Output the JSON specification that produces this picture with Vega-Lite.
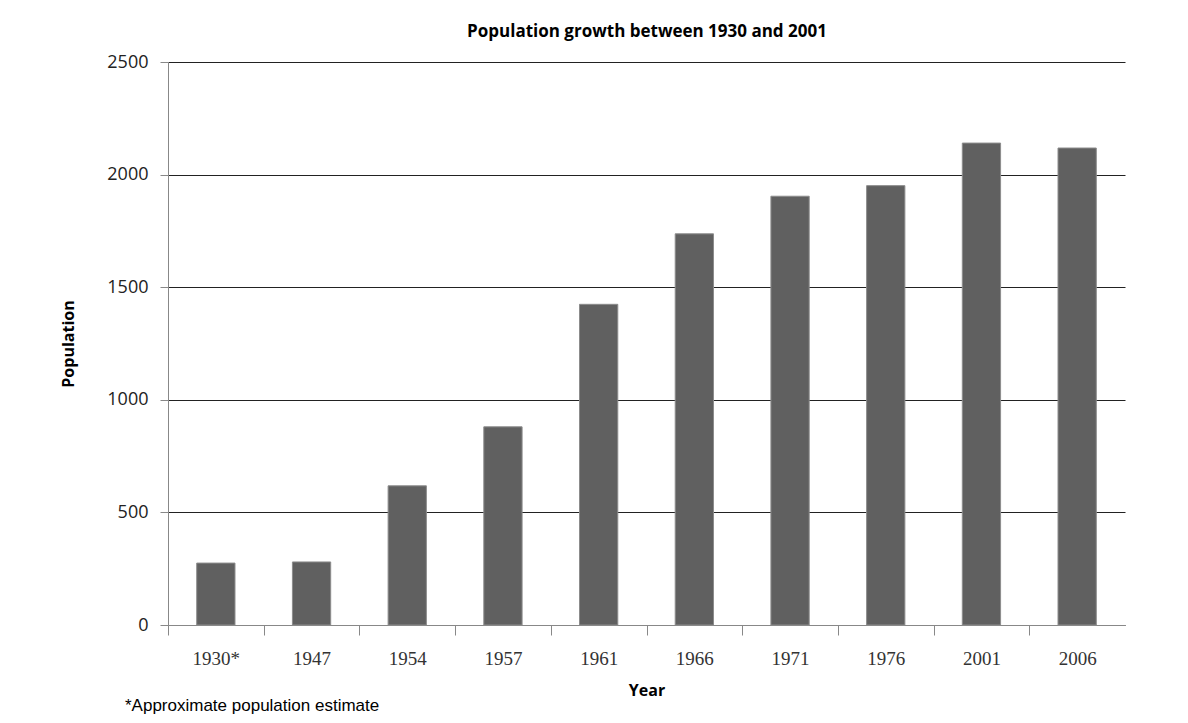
{
  "$schema": "https://vega.github.io/schema/vega-lite/v6.json",
  "width": 957,
  "height": 563,
  "autosize": "none",
  "padding": {"left": 168, "top": 62, "right": 63, "bottom": 98},
  "background": "white",
  "data": {
    "values": [
      {"Year": "1930*", "Population": 275},
      {"Year": "1947", "Population": 280},
      {"Year": "1954", "Population": 618},
      {"Year": "1957", "Population": 880},
      {"Year": "1961", "Population": 1424},
      {"Year": "1966", "Population": 1737},
      {"Year": "1971", "Population": 1904},
      {"Year": "1976", "Population": 1951},
      {"Year": "2001", "Population": 2140},
      {"Year": "2006", "Population": 2118}
    ]
  },
  "title": {
    "text": "*Approximate population estimate",
    "orient": "bottom",
    "anchor": "start",
    "frame": "group",
    "dx": -43,
    "offset": 0,
    "font": "Liberation Sans",
    "fontSize": 17,
    "fontWeight": "normal",
    "color": "#000"
  },
  "config": {
    "view": {"stroke": null},
    "axis": {"titleFont": "Open Sans", "titleFontWeight": "bold", "titleFontSize": 16, "titleColor": "#000"}
  },
  "resolve": {"axis": {"x": "independent"}},
  "layer": [
    {
      "mark": {"type": "bar", "color": "#606060", "stroke": "#8c8c8c", "strokeWidth": 1},
      "encoding": {
        "x": {
          "field": "Year",
          "type": "nominal",
          "sort": null,
          "scale": {"paddingInner": 0.6, "paddingOuter": 0.3},
          "axis": {
            "orient": "bottom",
            "title": "Year",
            "titlePadding": 14,
            "labelAngle": 0,
            "labelFont": "Liberation Serif",
            "labelFontSize": 19,
            "labelColor": "#333",
            "labelPadding": 14,
            "tickOffset": -47.85,
            "labelOffset": 47.85,
            "tickSize": 10,
            "tickColor": "#888",
            "domainColor": "#888",
            "grid": false
          }
        },
        "y": {
          "field": "Population",
          "type": "quantitative",
          "scale": {"domain": [0, 2500], "nice": false},
          "axis": {
            "title": "Population",
            "format": "d",
            "values": [0, 500, 1000, 1500, 2000, 2500],
            "titlePadding": 30,
            "labelFont": "Open Sans",
            "labelFontSize": 18,
            "labelColor": "#222",
            "labelPadding": 12,
            "tickSize": 8,
            "tickColor": "#888",
            "domainColor": "#888",
            "grid": true,
            "gridColor": "#222",
            "gridWidth": 1,
            "gridOpacity": 1
          }
        }
      }
    },
    {
      "mark": {"type": "bar", "opacity": 0},
      "encoding": {
        "x": {
          "field": "Year",
          "type": "nominal",
          "sort": null,
          "axis": {
            "orient": "top",
            "title": "Population growth between 1930 and 2001",
            "titleFontSize": 17,
            "titlePadding": 22,
            "labels": false,
            "ticks": false,
            "domain": false,
            "grid": false
          }
        },
        "y": {"field": "Population", "type": "quantitative"}
      }
    }
  ]
}
